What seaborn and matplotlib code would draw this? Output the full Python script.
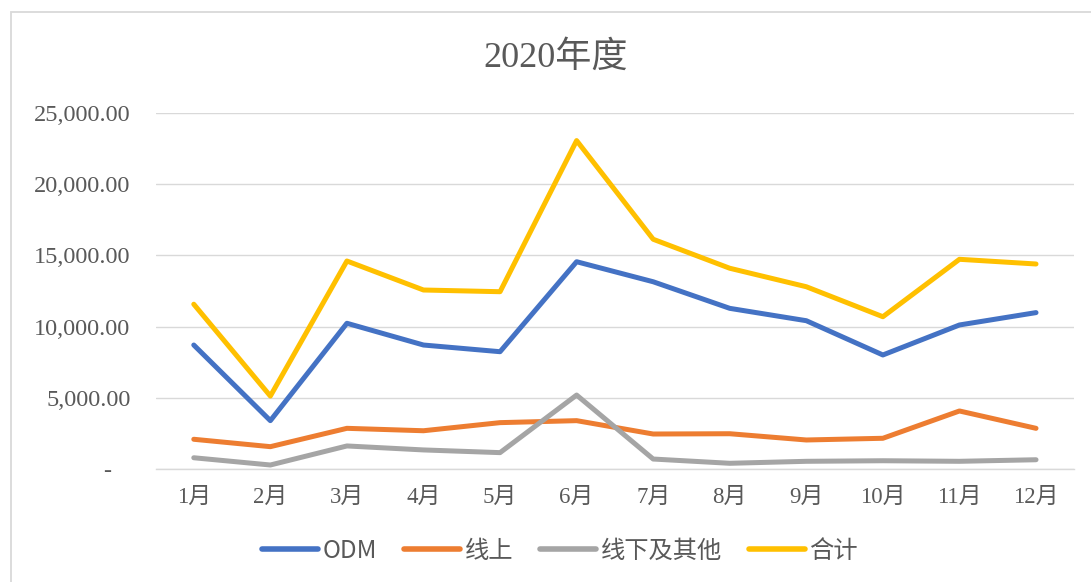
import matplotlib
matplotlib.use("Agg")
import matplotlib.pyplot as plt
import matplotlib.patches as mpatches
from matplotlib.ticker import FuncFormatter, FixedLocator
import seaborn as sns
import pandas as pd

months = ["1月", "2月", "3月", "4月", "5月", "6月",
          "7月", "8月", "9月", "10月", "11月", "12月"]
odm = [8700, 3380, 10230, 8700, 8230, 14560, 13150, 11280, 10410, 8000, 10110, 10980]
online = [2070, 1550, 2840, 2670, 3240, 3380, 2440, 2460, 2020, 2140, 4060, 2840]
offline = [770, 260, 1600, 1320, 1130, 5180, 680, 380, 520, 560, 520, 630]
total = [11570, 5110, 14610, 12570, 12450, 23080, 16140, 14100, 12800, 10690, 14730, 14400]
series_names = ["ODM", "线上", "线下及其他", "合计"]
colors = ["#4472C4", "#ED7D31", "#A5A5A5", "#FFC000"]
y_ticks = [0, 5000, 10000, 15000, 20000, 25000]

sns.set_theme(style="white")
plt.rcParams["font.family"] = ["Liberation Serif", "Noto Sans CJK SC", "DejaVu Sans"]

frames = []
for name, vals in zip(series_names, [odm, online, offline, total]):
    frames.append(pd.DataFrame({"月份": months, "金额": vals, "类别": name}))
df = pd.concat(frames, ignore_index=True)
df["月份"] = pd.Categorical(df["月份"], categories=months, ordered=True)
df["pos"] = df["月份"].cat.codes

fig = plt.figure(figsize=(10.91, 5.82), dpi=100)
ax = fig.add_axes([155.5 / 1091, 1 - 468.7 / 582, (1074.3 - 155.5) / 1091, (468.7 - 113.3) / 582])

# outer chart frame
fig.patches.append(mpatches.Rectangle((10.5 / 1091, -0.1), 1.2, 1.1 - 12 / 582,
                                      transform=fig.transFigure, fill=False,
                                      edgecolor="#D9D9D9", linewidth=1.3, zorder=0))

sns.lineplot(data=df, x="pos", y="金额", hue="类别",
             hue_order=series_names, palette=colors, linewidth=3.6,
             sort=False, ax=ax, legend=True)
for ln in ax.get_lines():
    ln.set_solid_capstyle("round")
    ln.set_solid_joinstyle("round")

ax.set_xlim(-0.5, 11.5)
ax.set_ylim(0, 25000)
ax.xaxis.set_major_locator(FixedLocator(range(len(months))))
ax.set_xticklabels(months)
ax.yaxis.set_major_locator(FixedLocator(y_ticks))
ax.yaxis.set_major_formatter(FuncFormatter(lambda v, p: "-   " if v == 0 else f"{v:,.2f}"))
ax.set_xlabel("")
ax.set_ylabel("")
ax.grid(axis="y", color="#D9D9D9", linewidth=1.0)
ax.grid(axis="x", visible=False)
ax.set_axisbelow(True)
for side in ["top", "right", "left"]:
    ax.spines[side].set_visible(False)
ax.spines["bottom"].set_color("#D9D9D9")
ax.spines["bottom"].set_linewidth(1.0)
ax.tick_params(axis="both", length=0, labelcolor="#595959")
ax.tick_params(axis="y", pad=18, labelsize=17.5)
ax.tick_params(axis="x", pad=13, labelsize=16.5)

fig.text(555.5 / 1091, 1 - 58 / 582, "2020年度", ha="center", va="center",
         fontsize=26, color="#595959")

handles, labels = ax.get_legend_handles_labels()
ax.legend_.remove()
for h in handles:
    h.set_linewidth(4.0)
    h.set_solid_capstyle("round")
leg = fig.legend(handles, labels, loc="center", bbox_to_anchor=(560 / 1091, 1 - 551 / 582),
                 ncol=4, frameon=False, handlelength=2.3, handletextpad=0.2,
                 columnspacing=1.1, prop={"family": ["Noto Sans CJK SC"], "size": 17.5})
for t in leg.get_texts():
    t.set_color("#595959")

fig.savefig("out.png", dpi=100)
